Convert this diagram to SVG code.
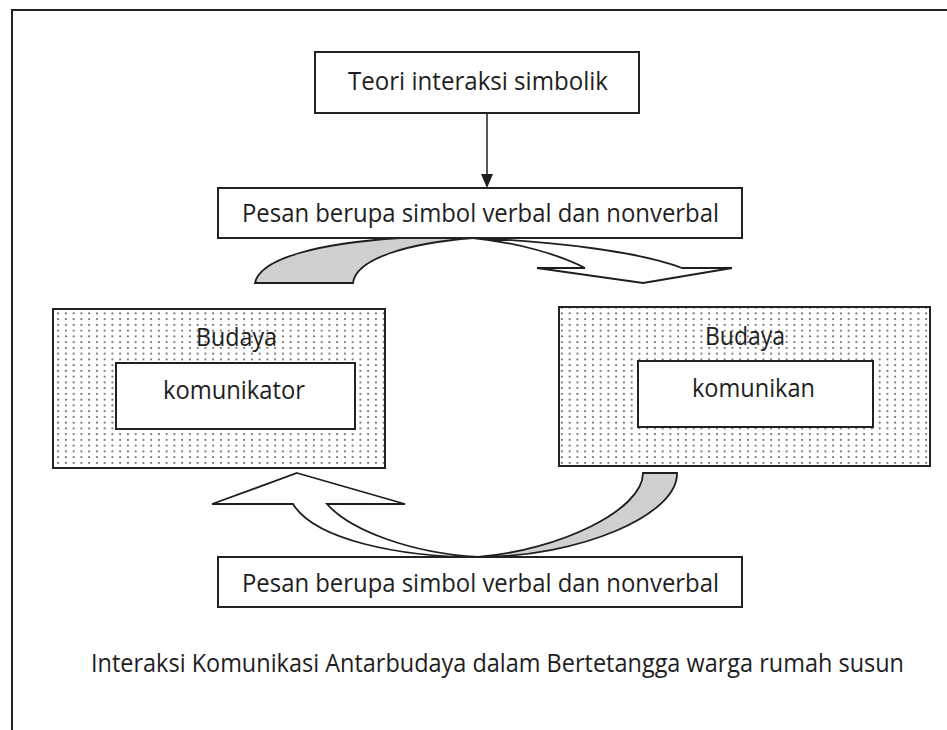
<svg xmlns="http://www.w3.org/2000/svg" width="947" height="730" viewBox="0 0 947 730">
<style>
text{font-family:"Open Sans","Liberation Sans",sans-serif;font-size:25px;fill:#1e1e1e}
.box{fill:#fff;stroke:#222;stroke-width:2}
.dot{fill:url(#dots);stroke:#222;stroke-width:2}
.arr{stroke:#1e1e1e;stroke-width:1.8;stroke-linejoin:miter}
</style>
<defs>
<pattern id="dots" patternUnits="userSpaceOnUse" width="7.75" height="5.75">
<rect width="7.75" height="5.75" fill="#fff"/>
<circle cx="3.9" cy="2.9" r="1" fill="#555"/>
</pattern>
</defs>
<rect width="947" height="730" fill="#fff"/>
<path d="M12,730 V10 H947" fill="none" stroke="#222" stroke-width="2"/>

<g id="connectors">
<line x1="487" y1="113" x2="487" y2="174" stroke="#1e1e1e" stroke-width="1.5"/>
<path d="M481,174 L493,174 L487,188 Z" fill="#1e1e1e"/>
<path class="arr" fill="#cfd0d2" d="M255,283 C260,258 320,243 400,238 L473,238 C410,243 356,258 353,283 Z"/>
<path class="arr" fill="#fff" d="M473,238 C560,242 640,252 682,268 L732,268 L643,283 L537,268 L585,268 C560,255 520,243 473,238 Z"/>
<path class="arr" fill="#fff" d="M297,473 L405,504 L327,504 C350,530 410,553 478,557 C400,557 315,540 293,504 L212,504 Z"/>
<path class="arr" fill="#cfd0d2" d="M643,473 L677,473 C678,515 580,557 478,557 C560,550 643,510 643,473 Z"/>
</g>

<g id="teori">
<rect class="box" x="315" y="52" width="324" height="61"/>
<text x="348" y="90" textLength="260" lengthAdjust="spacingAndGlyphs">Teori interaksi simbolik</text>
</g>

<g id="pesan1">
<rect class="box" x="218" y="188" width="524" height="50"/>
<text x="242" y="222" textLength="477" lengthAdjust="spacingAndGlyphs">Pesan berupa simbol verbal dan nonverbal</text>
</g>

<g id="budaya-kiri">
<rect class="dot" x="53" y="309" width="332" height="159"/>
<text x="196" y="346" textLength="81" lengthAdjust="spacingAndGlyphs">Budaya</text>
<rect class="box" x="116" y="363" width="239" height="66"/>
<text x="163" y="399" textLength="142" lengthAdjust="spacingAndGlyphs">komunikator</text>
</g>

<g id="budaya-kanan">
<rect class="dot" x="559" y="307" width="371" height="159"/>
<text x="705" y="345" textLength="80" lengthAdjust="spacingAndGlyphs">Budaya</text>
<rect class="box" x="638" y="361" width="235" height="66"/>
<text x="692" y="397" textLength="123" lengthAdjust="spacingAndGlyphs">komunikan</text>
</g>

<g id="pesan2">
<rect class="box" x="218" y="557" width="524" height="50"/>
<text x="242" y="592" textLength="477" lengthAdjust="spacingAndGlyphs">Pesan berupa simbol verbal dan nonverbal</text>
</g>

<g id="caption">
<text x="91" y="672" textLength="813" lengthAdjust="spacingAndGlyphs">Interaksi Komunikasi Antarbudaya dalam Bertetangga warga rumah susun</text>
</g>
</svg>
